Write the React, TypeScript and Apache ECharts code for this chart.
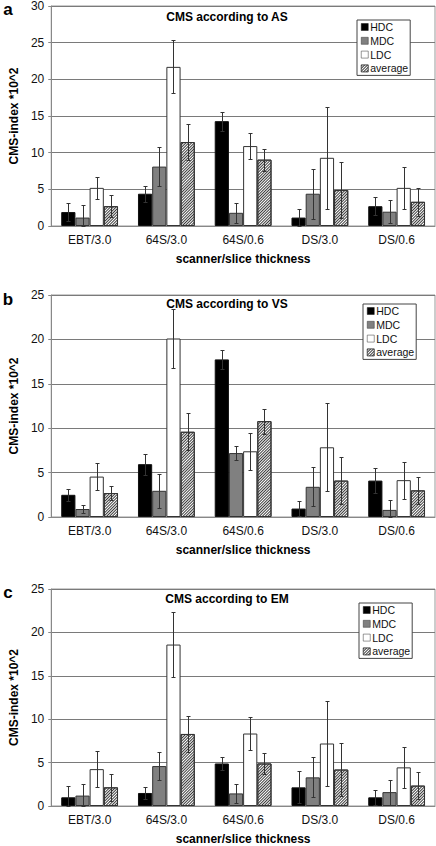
import React, { useEffect, useRef } from "react";
import * as echarts from "echarts";

const categories = ["EBT/3.0", "64S/3.0", "64S/0.6", "DS/3.0", "DS/0.6"];
const seriesNames = ["HDC", "MDC", "LDC", "average"];

// Panel a: CMS according to AS
const asHDC = [1.9, 4.4, 14.3, 1.15, 2.7];
const asHDCErr = [1.2, 1.1, 1.3, 1.15, 1.25];
const asMDC = [1.15, 8.1, 1.8, 4.4, 1.95];
const asMDCErr = [1.65, 2.65, 1.35, 3.4, 1.6];
const asLDC = [5.2, 21.7, 10.9, 9.3, 5.2];
const asLDCErr = [1.45, 3.6, 1.8, 6.95, 2.9];
const asAvg = [2.7, 11.45, 9.05, 4.9, 3.3];
const asAvgErr = [1.5, 2.5, 1.5, 3.8, 1.9];

// Panel b: CMS according to VS
const vsHDC = [2.5, 5.95, 17.75, 0.95, 4.1];
const vsHDCErr = [0.65, 1.2, 1.1, 0.8, 1.4];
const vsMDC = [0.9, 2.95, 7.2, 3.4, 0.8];
const vsMDCErr = [0.4, 1.9, 0.8, 2.2, 1.1];
const vsLDC = [4.55, 20.1, 7.4, 7.85, 4.15];
const vsLDCErr = [1.5, 3.35, 2.1, 4.95, 2.1];
const vsAvg = [2.7, 9.6, 10.8, 4.1, 3.0];
const vsAvgErr = [0.8, 2.1, 1.4, 2.65, 1.55];

// Panel c: CMS according to EM
const emHDC = [1.0, 1.5, 4.9, 2.15, 1.0];
const emHDCErr = [1.3, 0.7, 0.75, 1.85, 0.85];
const emMDC = [1.2, 4.6, 1.45, 3.3, 1.6];
const emMDCErr = [1.3, 1.65, 1.05, 2.3, 1.45];
const emLDC = [4.25, 18.6, 8.35, 7.2, 4.45];
const emLDCErr = [2.1, 3.75, 1.95, 4.85, 2.4];
const emAvg = [2.15, 8.3, 4.9, 4.2, 2.35];
const emAvgErr = [1.55, 2.1, 1.25, 3.1, 1.6];

const panelTitles = ["CMS according to AS", "CMS according to VS", "CMS according to EM"];
const panelLetters = ["a", "b", "c"];
const yMax = [30, 25, 25];

const FONT = "'Liberation Sans', Arial, sans-serif";
const CAT_GAP = 0.26;

const hatch = {
  symbol: "rect",
  symbolSize: 1,
  dashArrayX: [1, 0],
  dashArrayY: [1, 1],
  rotation: -Math.PI / 4,
  color: "#3a3a3a",
};

const barStyles = [
  { color: "#000000", borderColor: "#111", borderWidth: 1 },
  { color: "#808080", borderColor: "#333", borderWidth: 1 },
  { color: "#ffffff", borderColor: "#333", borderWidth: 1 },
  { color: "#ffffff", borderColor: "#333", borderWidth: 1, decal: hatch },
];

export default function App() {
  const ref = useRef<HTMLDivElement>(null);
  useEffect(() => {
    if (!ref.current) return;
    const chart = echarts.init(ref.current, null, { renderer: "svg" });

    const panels = [
      { vals: [asHDC, asMDC, asLDC, asAvg], errs: [asHDCErr, asMDCErr, asLDCErr, asAvgErr] },
      { vals: [vsHDC, vsMDC, vsLDC, vsAvg], errs: [vsHDCErr, vsMDCErr, vsLDCErr, vsAvgErr] },
      { vals: [emHDC, emMDC, emLDC, emAvg], errs: [emHDCErr, emMDCErr, emLDCErr, emAvgErr] },
    ];
    const grids = [
      { left: 43, top: 5, width: 392, height: 221 },
      { left: 43, top: 295, width: 392, height: 222 },
      { left: 43, top: 589, width: 392, height: 218 },
    ];
    const legendPos = [
      { left: 357, top: 20 },
      { left: 363, top: 304 },
      { left: 359, top: 603 },
    ];
    const titleY = [17, 304, 599];
    const letterBottom = [18, 308, 601];

    const series: any[] = [];
    panels.forEach((p, pi) => {
      p.vals.forEach((v, k) => {
        series.push({
          type: "bar",
          name: seriesNames[k],
          xAxisIndex: pi,
          yAxisIndex: pi,
          data: v,
          barGap: "0%",
          barCategoryGap: CAT_GAP * 100 + "%",
          itemStyle: barStyles[k],
          emphasis: { disabled: true },
        });
      });
      p.vals.forEach((v, k) => {
        series.push({
          type: "custom",
          xAxisIndex: pi,
          yAxisIndex: pi,
          z: 10,
          silent: true,
          data: v.map((val, i) => [i, val, p.errs[k][i]]),
          encode: { x: 0, y: 1 },
          renderItem: (params: any, api: any) => {
            const cat = api.value(0);
            const val = api.value(1);
            const err = api.value(2);
            const c = api.coord([cat, val]);
            const band = api.size([1, 0])[0];
            const bw = (band * (1 - CAT_GAP)) / 4;
            const x = Math.round(c[0] + (k - 1.5) * bw) + 0.5;
            const yt = Math.round(api.coord([cat, val + err])[1]) + 0.5;
            const yb = Math.round(api.coord([cat, Math.max(0, val - err)])[1]) + 0.5;
            const st = { stroke: "#333", lineWidth: 1 };
            return {
              type: "group",
              children: [
                { type: "line", shape: { x1: x, y1: yt, x2: x, y2: yb }, style: st },
                { type: "line", shape: { x1: x - 2, y1: yt, x2: x + 2, y2: yt }, style: st },
                { type: "line", shape: { x1: x - 2, y1: yb, x2: x + 2, y2: yb }, style: st },
              ],
            };
          },
        });
      });
    });

    const option: any = {
      animation: false,
      textStyle: { fontFamily: FONT },
      grid: grids.map((g) => ({ ...g, show: true, borderColor: "#999", borderWidth: 1, backgroundColor: "#fff" })),
      xAxis: grids.map((_, i) => ({
        type: "category",
        gridIndex: i,
        data: categories,
        axisLine: { lineStyle: { color: "#888" } },
        axisTick: { length: 4, lineStyle: { color: "#888" } },
        axisLabel: { fontSize: 12, color: "#111", margin: 8, fontFamily: FONT },
        name: "scanner/slice thickness",
        nameLocation: "middle",
        nameGap: 27,
        nameTextStyle: { fontSize: 12, fontWeight: "bold", color: "#000", fontFamily: FONT },
      })),
      yAxis: grids.map((_, i) => ({
        type: "value",
        gridIndex: i,
        min: 0,
        max: yMax[i],
        interval: 5,
        axisLine: { show: true, lineStyle: { color: "#888" } },
        axisTick: { show: true, length: 3, lineStyle: { color: "#888" } },
        splitLine: { lineStyle: { color: "#7a7a7a" } },
        axisLabel: { fontSize: 12, color: "#111", margin: 7, fontFamily: FONT },
        name: "CMS-index *10^2",
        nameLocation: "middle",
        nameGap: 30,
        nameTextStyle: { fontSize: 12, fontWeight: "bold", color: "#000", fontFamily: FONT },
      })),
      legend: legendPos.map((lp) => ({
        ...lp,
        orient: "vertical",
        data: seriesNames.map((n) => ({ name: n, icon: "rect" })),
        itemWidth: 7,
        itemHeight: 7,
        itemGap: 1.8,
        padding: [1, 2, 1, 4],
        borderColor: "#444",
        borderWidth: 1,
        backgroundColor: "#fff",
        selectedMode: false,
        itemStyle: { borderWidth: 0.5 },
        textStyle: { fontSize: 10.5, color: "#111", fontFamily: FONT, lineHeight: 12, padding: [0, 0, 0, -3] },
      })),
      graphic: [
        ...panelTitles.map((t, i) => ({
          type: "text",
          x: 227,
          y: titleY[i],
          style: {
            text: t,
            fontSize: 12,
            fontWeight: "bold",
            fill: "#000",
            fontFamily: FONT,
            textAlign: "center",
            textVerticalAlign: "middle",
          },
        })),
        ...panelLetters.map((t, i) => ({
          type: "text",
          x: 8,
          y: letterBottom[i],
          style: {
            text: t,
            fontSize: 17,
            fontWeight: "bold",
            fill: "#000",
            fontFamily: FONT,
            textAlign: "center",
            textVerticalAlign: "bottom",
          },
        })),
      ],
      series,
    };
    chart.setOption(option);
    return () => chart.dispose();
  }, []);
  return (
    <div
      ref={ref}
      style={{ position: "absolute", left: 0, top: 0, width: 436, height: 846, background: "#fff" }}
    />
  );
}
